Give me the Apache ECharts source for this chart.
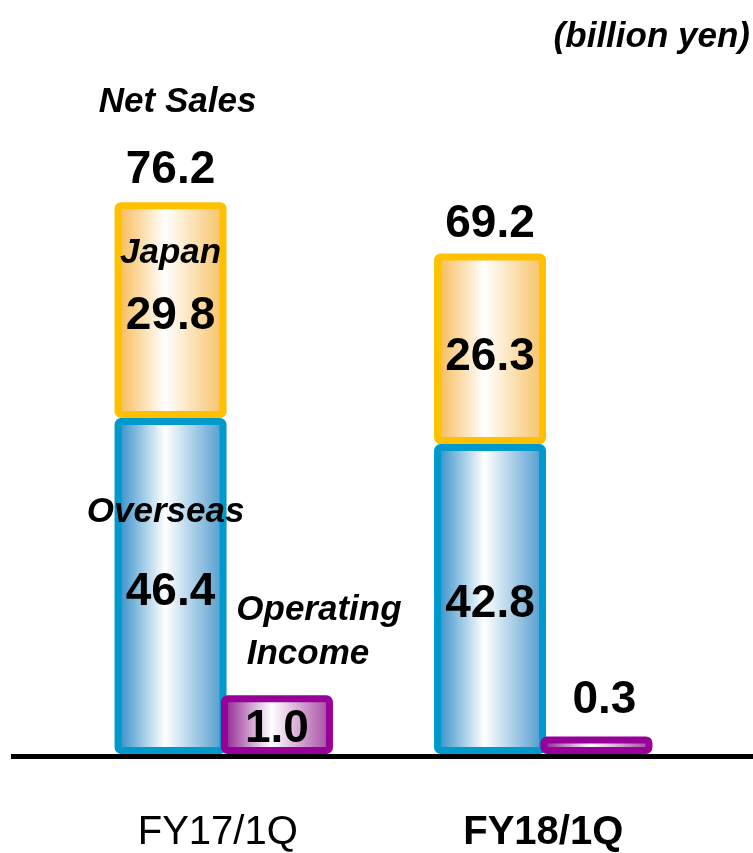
<!DOCTYPE html>
<html>
<head>
<meta charset="utf-8">
<title>Net Sales and Operating Income</title>
<script src="https://cdn.jsdelivr.net/npm/echarts@6/dist/echarts.min.js"></script>
<style>
  html, body { margin: 0; padding: 0; background: #ffffff; }
  #chart { width: 753px; height: 853px; }
</style>
</head>
<body>
<div id="chart"></div>
<script>
// Quarterly results, billion yen
const categories = ['FY17/1Q', 'FY18/1Q'];
const overseas = [46.4, 42.8];
const japan = [29.8, 26.3];
const netSales = [76.2, 69.2];
const operatingIncome = [1.0, 0.3];

const FONT = "'Liberation Sans', Arial, Helvetica, sans-serif";
const valueStyle = { fontFamily: FONT, fontWeight: 'bold', fontSize: 46, color: '#000' };
const nameStyle = { fontFamily: FONT, fontWeight: 'bold', fontStyle: 'italic', fontSize: 35, color: '#000' };

// Horizontal "cylinder" shading: coloured edges fading to white in the middle
function shade(left, right) {
  return new echarts.graphic.LinearGradient(0, 0, 1, 0, [
    { offset: 0, color: left },
    { offset: 0.45, color: '#ffffff' },
    { offset: 1, color: right }
  ]);
}

const fmt = v => v.toFixed(1);

const chart = echarts.init(document.getElementById('chart'), null, { renderer: 'canvas' });

const BAR_W = 112;
const GAP = '-5%';

const option = {
  animation: false,
  backgroundColor: '#ffffff',
  grid: { left: 64, width: 639, top: 179, bottom: 97, containLabel: false },
  xAxis: {
    type: 'category',
    data: categories,
    axisLine: { show: false },
    axisTick: { show: false },
    axisLabel: {
      margin: 59,
      formatter: (v, i) => (i === 1 ? '{b|' + v + '}' : '{r|' + v + '}'),
      rich: {
        r: { fontFamily: FONT, fontSize: 40, color: '#000', padding: [0, 12, 0, 0] },
        b: { fontFamily: FONT, fontSize: 40, fontWeight: 'bold', color: '#000' }
      }
    }
  },
  yAxis: [
    { type: 'value', min: 0, max: 79.4, show: false, splitLine: { show: false } },
    { type: 'value', min: 0, max: 9.8, show: false, splitLine: { show: false } }
  ],
  series: [
    {
      name: 'Overseas',
      type: 'bar',
      stack: 'ns',
      stackStrategy: 'all',
      yAxisIndex: 0,
      barWidth: BAR_W,
      barGap: GAP,
      itemStyle: { color: shade('#2386c5', '#4796cb'), borderColor: '#0099cc', borderWidth: 7, borderRadius: 3 },
      label: {
        show: true,
        position: 'inside',
        offset: [0, 5],
        formatter: p => '{v|' + fmt(p.value) + '}',
        rich: { v: { ...valueStyle, lineHeight: 48 }, n: { ...nameStyle } }
      },
      data: overseas.map((v, i) => i === 0 ? {
        value: v,
        label: {
          formatter: '{n|Overseas}\n{v|' + fmt(v) + '}',
          rich: { n: { ...nameStyle, lineHeight: 80, padding: [0, 10, 0, 0] }, v: { ...valueStyle, lineHeight: 80 } },
          offset: [0, -34]
        }
      } : { value: v })
    },
    {
      name: 'Japan',
      type: 'bar',
      stack: 'ns',
      stackStrategy: 'all',
      yAxisIndex: 0,
      barWidth: BAR_W,
      barGap: GAP,
      itemStyle: { color: shade('#f6b549', '#f7bf5e'), borderColor: '#ffc000', borderWidth: 7, borderRadius: 3 },
      label: {
        show: true,
        position: 'inside',
        formatter: p => '{v|' + fmt(p.value) + '}',
        rich: { v: { ...valueStyle, lineHeight: 48 }, n: { ...nameStyle } }
      },
      data: japan.map((v, i) => i === 0 ? {
        value: v,
        label: {
          formatter: '{n|Japan}\n{v|' + fmt(v) + '}',
          rich: { n: { ...nameStyle, lineHeight: 63 }, v: { ...valueStyle, lineHeight: 63 } },
          offset: [0, -25]
        }
      } : { value: v, label: { offset: [0, 8] } })
    },
    {
      // zero-height cap on the stack that carries the Net Sales totals
      name: 'Net Sales',
      type: 'bar',
      stack: 'ns',
      stackStrategy: 'all',
      yAxisIndex: 0,
      barWidth: BAR_W,
      barGap: GAP,
      itemStyle: { color: 'rgba(0,0,0,0)', borderWidth: 0 },
      label: { show: true, position: 'top' },
      data: netSales.map((t, i) => ({
        value: 0,
        label: i === 0 ? {
          distance: 8,
          formatter: '{n|Net Sales}\n{v|' + fmt(t) + '}',
          rich: { n: { ...nameStyle, lineHeight: 88, padding: [0, 0, 0, 14] }, v: { ...valueStyle, lineHeight: 48 } }
        } : {
          distance: 5,
          formatter: '{v|' + fmt(t) + '}',
          rich: { v: { ...valueStyle, lineHeight: 48 } }
        }
      }))
    },
    {
      name: 'Operating Income',
      type: 'bar',
      stack: 'oi',
      stackStrategy: 'all',
      yAxisIndex: 1,
      barWidth: BAR_W,
      barGap: GAP,
      itemStyle: { color: shade('#8a168a', '#a2419f'), borderColor: '#990099', borderWidth: 7, borderRadius: 3 },
      label: {
        show: true,
        position: 'inside',
        offset: [0, 5],
        formatter: p => '{v|' + fmt(p.value) + '}',
        rich: { v: { ...valueStyle, lineHeight: 48 } }
      },
      data: operatingIncome.map((v, i) => ({ value: v, label: { show: i === 0 } }))
    },
    {
      // zero-height cap above the operating income bars for their captions
      name: 'Operating Income caption',
      type: 'bar',
      stack: 'oi',
      stackStrategy: 'all',
      yAxisIndex: 1,
      barWidth: BAR_W,
      barGap: GAP,
      itemStyle: { color: 'rgba(0,0,0,0)', borderWidth: 0 },
      label: { show: true, position: 'top' },
      data: operatingIncome.map((v, i) => ({
        value: 0,
        label: i === 0 ? {
          distance: 19,
          offset: [31, 0],
          formatter: '{o|Operating}\n{i|Income}',
          rich: { o: { ...nameStyle, lineHeight: 44, padding: [0, 0, 0, 22] }, i: { ...nameStyle, lineHeight: 44 } }
        } : {
          distance: 12,
          offset: [8, 0],
          formatter: '{v|' + fmt(v) + '}',
          rich: { v: { ...valueStyle, lineHeight: 48 } }
        }
      }))
    }
  ],
  graphic: [
    {
      type: 'text',
      right: 3,
      top: 20,
      style: { text: '(billion yen)', font: 'italic bold 35px ' + FONT, fill: '#000' }
    },
    {
      type: 'line',
      z: 100,
      shape: { x1: 11, y1: 756.5, x2: 753, y2: 756.5 },
      style: { stroke: '#000', lineWidth: 5 }
    }
  ]
};

chart.setOption(option);
</script>
</body>
</html>
